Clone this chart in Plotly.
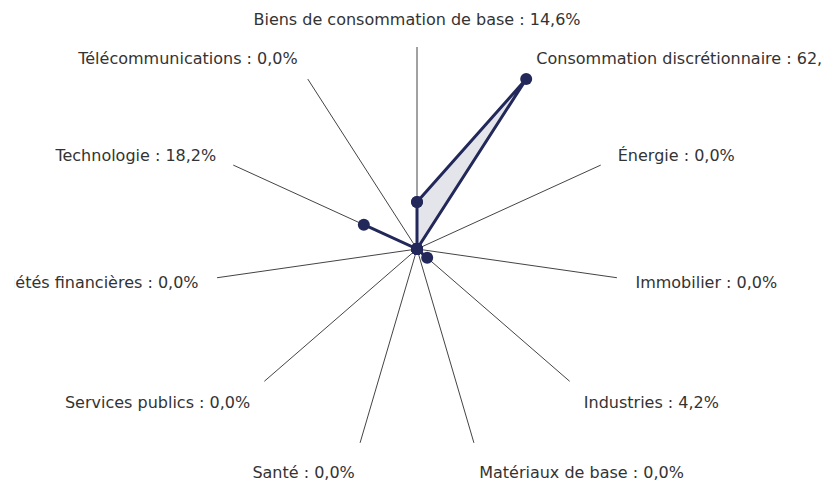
import plotly.graph_objects as go

categories = [
    "Biens de consommation de base",
    "Consommation discrétionnaire",
    "Énergie",
    "Immobilier",
    "Industries",
    "Matériaux de base",
    "Santé",
    "Services publics",
    "Sociétés financières",
    "Technologie",
    "Télécommunications",
]
values = [14.6, 62.9, 0.0, 0.0, 4.2, 0.0, 0.0, 0.0, 0.0, 18.2, 0.0]

def fmt(v):
    return f"{v:.1f}".replace(".", ",") + "%"

tick_labels = [f"{c} : {fmt(v)}" for c, v in zip(categories, values)]

theta = categories + [categories[0]]
r = values + [values[0]]

fig = go.Figure()
fig.add_trace(go.Scatterpolar(
    r=r,
    theta=theta,
    mode="lines+markers",
    fill="toself",
    fillcolor="rgba(35,40,90,0.12)",
    line=dict(color="#23285a", width=3),
    marker=dict(color="#23285a", size=12),
    hoverinfo="skip",
    showlegend=False,
))

W, H = 835, 482
cx, cy, R = 417, 249, 202
fig.update_layout(
    width=W, height=H,
    margin=dict(l=0, r=0, t=0, b=0),
    paper_bgcolor="white",
    plot_bgcolor="white",
    font=dict(family="DejaVu Sans", size=16, color="#333333"),
    polar=dict(
        domain=dict(x=[(cx - R) / W, (cx + R) / W],
                    y=[(H - cy - R) / H, (H - cy + R) / H]),
        bgcolor="white",
        radialaxis=dict(range=[0, max(values)], visible=True, showticklabels=False,
                        showgrid=False, showline=False, ticks=""),
        angularaxis=dict(
            direction="clockwise", rotation=90,
            categoryorder="array", categoryarray=categories,
            tickmode="array", tickvals=categories, ticktext=tick_labels,
            showline=False, showgrid=True, gridcolor="#444444", gridwidth=1,
            ticks="outside", ticklen=15, tickcolor="rgba(0,0,0,0)",
            tickfont=dict(family="DejaVu Sans", size=16, color="#333333"),
        ),
    ),
)

post = (
    "document.body.style.margin='0';"
    "var gd=document.getElementById('{plot_id}');"
    "gd.style.clipPath='inset(0px 12px 0px 14px)';"
)
fig.write_html("out.html", config={"displayModeBar": False}, post_script=post)
